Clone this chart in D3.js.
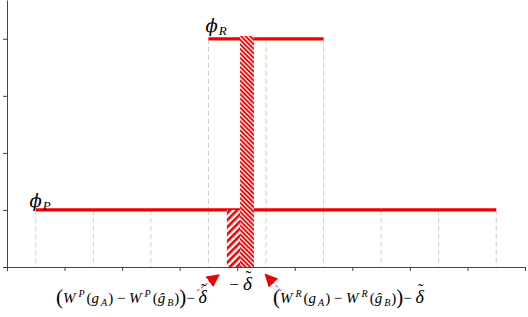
<!DOCTYPE html>
<meta charset="utf-8">
<style>
body { margin: 0; background: #fff; }
text { font-family: "Liberation Serif", serif; font-style: italic; fill: #000; }
.axis path, .axis line { stroke: #444; }
.grid line { stroke: #ccc; stroke-dasharray: 5,3; }
</style>
<svg width="528" height="317"></svg>
<script src="https://d3js.org/d3.v7.min.js"></script>
<script>

// positions along x of the two step lines (data units)
var pX = [0.5, 1.5, 2.5, 3.5, 4.5, 5.5, 6.5, 7.5, 8.5],
    pVals = [1, 1, 1, 1, 1, 1, 1, 1, 1],
    rX = [3.5, 4.5, 5.5],
    rVals = [4, 4, 4];

// hatched bars: start, end, height
var barStart = [3.82, 4.05],
    barEnd = [4.05, 4.29],
    barVals = [1, 4.05],
    barPattern = ["hatchA", "hatchB"];

var xTicks = d3.range(0, 10),
    yTicks = [0, 1, 2, 3, 4];

var svg = d3.select("svg");

var x = d3.scaleLinear().domain([0, 9]).range([7, 525]),
    y = d3.scaleLinear().domain([0, 4.68]).range([267, 0]);

var red = "#f00000";

// patterns
var defs = svg.append("defs");
var pa = defs.append("pattern").attr("id", "hatchA")
    .attr("patternUnits", "userSpaceOnUse").attr("width", 5).attr("height", 5)
    .attr("patternTransform", "rotate(45)");
pa.append("rect").attr("width", 5).attr("height", 5).attr("fill", "#fff");
pa.append("rect").attr("width", 2.6).attr("height", 5).attr("fill", red);

var pb = defs.append("pattern").attr("id", "hatchB")
    .attr("patternUnits", "userSpaceOnUse").attr("width", 3.2).attr("height", 3.2)
    .attr("patternTransform", "rotate(-45)");
pb.append("rect").attr("width", 3.2).attr("height", 3.2).attr("fill", "#fde0e0");
pb.append("rect").attr("width", 1.7).attr("height", 3.2).attr("fill", red);

// drop lines
var grid = svg.append("g").attr("class", "grid");
grid.selectAll("line.p")
    .data(pX.map(function(d, i) { return [d, pVals[i]]; }))
  .enter().append("line")
    .attr("x1", function(d) { return x(d[0]); })
    .attr("x2", function(d) { return x(d[0]); })
    .attr("y1", function(d) { return y(d[1]); })
    .attr("y2", y(0));
grid.selectAll("line.r")
    .data(rX.map(function(d, i) { return [d, rVals[i]]; }))
  .enter().append("line")
    .attr("x1", function(d) { return x(d[0]); })
    .attr("x2", function(d) { return x(d[0]); })
    .attr("y1", function(d) { return y(d[1]); })
    .attr("y2", y(1));

// lines
var line = d3.line().x(function(d) { return x(d[0]); }).y(function(d) { return y(d[1]); });
svg.append("path")
    .attr("d", line(pX.map(function(d, i) { return [d, pVals[i]]; })))
    .attr("fill", "none").attr("stroke", red).attr("stroke-width", 3.2);
svg.append("path")
    .attr("d", line(rX.map(function(d, i) { return [d, rVals[i]]; })))
    .attr("fill", "none").attr("stroke", red).attr("stroke-width", 3.2);

// bars
svg.selectAll("rect.bar")
    .data(barVals)
  .enter().append("rect")
    .attr("class", "bar")
    .attr("x", function(d, i) { return x(barStart[i]); })
    .attr("width", function(d, i) { return x(barEnd[i]) - x(barStart[i]); })
    .attr("y", function(d) { return y(d); })
    .attr("height", function(d) { return y(0) - y(d); })
    .attr("fill", function(d, i) { return "url(#" + barPattern[i] + ")"; });

// axes
svg.append("g").attr("class", "axis")
    .attr("transform", "translate(0," + y(0) + ")")
    .call(d3.axisBottom(x).tickValues(xTicks).tickSize(4).tickSizeOuter(0).tickFormat(""));
svg.append("g").attr("class", "axis")
    .attr("transform", "translate(" + x(0) + ",0)")
    .call(d3.axisLeft(y).tickValues(yTicks).tickSize(4).tickSizeOuter(0).tickFormat(""));

// phi labels
function phi(px, py, sub) {
  var t = svg.append("text").attr("x", x(px)).attr("y", y(py)).attr("font-size", 18);
  t.append("tspan").attr("font-family", "DejaVu Serif").text("\u03D5");
  t.append("tspan").attr("font-size", 13).attr("dy", 3).attr("dx", 1).text(sub);
}
phi(3.45, 4.12, "R");
phi(0.39, 1.06, "P");

// delta with a tilde above it, kept inside the same text element
function deltaTilde(t, size, baseY) {
  var d = t.append("tspan").attr("font-size", size).text("\u03B4");
  var a = d.node().getStartPositionOfChar(0).x,
      b = d.node().getEndPositionOfChar(0).x;
  t.append("tspan").attr("font-size", size * 0.9).attr("font-style", "normal")
      .attr("text-anchor", "middle")
      .attr("x", (a + b) / 2 + 1).attr("y", baseY - size * 0.42).text("\u02DC");
}

// bottom labels
function wLabel(px, py, s) {
  var t = svg.append("text").attr("x", x(px)).attr("y", y(py)).attr("font-size", 15);
  t.append("tspan").attr("font-size", 21).attr("font-style", "normal").attr("dy", 1).text("(");
  t.append("tspan").attr("dy", -1).text("W");
  t.append("tspan").attr("font-size", 10).attr("dy", -6).attr("dx", 3).text(s);
  t.append("tspan").attr("dy", 6).attr("dx", 2).attr("font-style", "normal").text("(");
  t.append("tspan").text("g");
  t.append("tspan").attr("font-size", 10).attr("dy", 3).attr("dx", 2).text("A");
  t.append("tspan").attr("dy", -3).attr("dx", 1).attr("font-style", "normal").text(") \u2212 ");
  t.append("tspan").text("W");
  t.append("tspan").attr("font-size", 10).attr("dy", -6).attr("dx", 3).text(s);
  t.append("tspan").attr("dy", 6).attr("dx", 2).attr("font-style", "normal").text("(");
  t.append("tspan").text("\u011D");
  t.append("tspan").attr("font-size", 10).attr("dy", 3).attr("dx", 2).text("B");
  t.append("tspan").attr("dy", -3).attr("dx", 1).attr("font-style", "normal").text(")");
  t.append("tspan").attr("font-size", 21).attr("font-style", "normal").attr("dy", 1).text(")");
  t.append("tspan").attr("dy", -1).attr("font-style", "normal").text("\u2212 ");
  deltaTilde(t, 18, y(py));
}
wLabel(0.85, -0.63, "P");
wLabel(4.62, -0.63, "R");

var mid = svg.append("text").attr("x", x(3.86)).attr("y", y(-0.4)).attr("font-size", 17);
mid.append("tspan").attr("font-style", "normal").text("\u2212 ");
deltaTilde(mid, 19, y(-0.4));

// arrows
defs.append("marker").attr("id", "ah")
    .attr("viewBox", "0 0 10 10").attr("refX", 9).attr("refY", 5)
    .attr("markerWidth", 13).attr("markerHeight", 13).attr("markerUnits", "userSpaceOnUse")
    .attr("orient", "auto")
  .append("path").attr("d", "M0,0L10,5L0,10Z").attr("fill", red);

var arrows = [[3.3, -0.42, 3.68, -0.14], [4.76, -0.42, 4.49, -0.13]];
svg.selectAll("line.arrow")
    .data(arrows)
  .enter().append("line")
    .attr("x1", function(d) { return x(d[0]); })
    .attr("y1", function(d) { return y(d[1]); })
    .attr("x2", function(d) { return x(d[2]); })
    .attr("y2", function(d) { return y(d[3]); })
    .attr("stroke", "#f06070").attr("stroke-width", 1.2)
    .attr("stroke-dasharray", "3,2")
    .attr("marker-end", "url(#ah)");

</script>
